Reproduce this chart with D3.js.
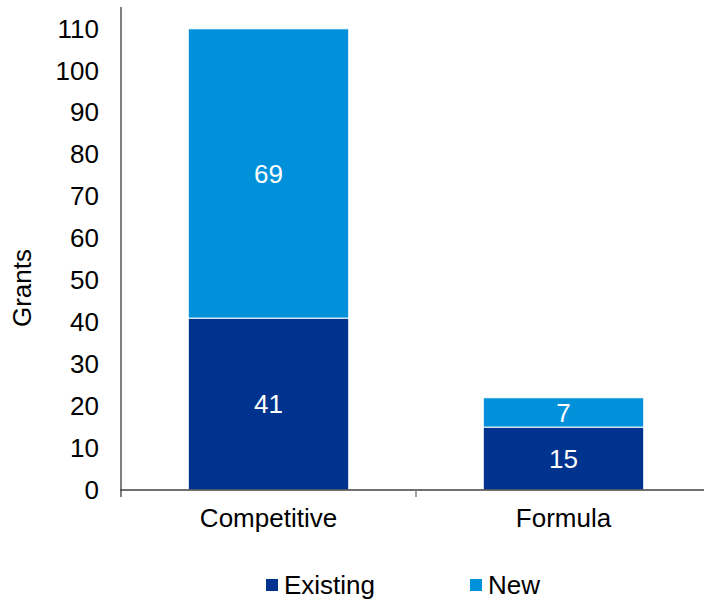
<!DOCTYPE html>
<html>
<head>
<meta charset="utf-8">
<script src="https://cdn.jsdelivr.net/npm/d3@7"></script>
<style>
  html, body { margin: 0; padding: 0; background: #fff; }
  svg text { font-family: "Liberation Sans", Arial, sans-serif; }
</style>
</head>
<body>
<svg id="chart" width="704" height="600"></svg>
<script>
// Grant counts by funding type, split into existing and new grants
const categories = ["Competitive", "Formula"];
const seriesNames = ["Existing", "New"];
const existing = [41, 15];
const newGrants = [69, 7];
const yTicks = [0, 10, 20, 30, 40, 50, 60, 70, 80, 90, 100, 110];
const colors = ["#00338D", "#0091DA"];

const svg = d3.select("#chart");
const margin = { left: 121, right: 711, top: 7, bottom: 490 };
const fontSize = 26;

const rows = categories.map((c, i) => ({ category: c, Existing: existing[i], New: newGrants[i] }));
const stacked = d3.stack().keys(seriesNames)(rows);

const x = d3.scaleBand().domain(categories).range([margin.left, margin.right]).paddingInner(0.456).paddingOuter(0.228);
const y = d3.scaleLinear().domain([0, 115.2]).range([margin.bottom, margin.top]);

// bars
const layers = svg.append("g").selectAll("g").data(stacked).join("g")
  .attr("fill", (d, i) => colors[i]);
layers.selectAll("rect").data(d => d.map(v => ({ v, key: d.key }))).join("rect")
  .attr("x", d => x(d.v.data.category))
  .attr("width", x.bandwidth())
  .attr("y", d => y(d.v[1]))
  .attr("height", d => y(d.v[0]) - y(d.v[1]))
  .attr("stroke", "#fff")
  .attr("stroke-width", 1);

// value labels
layers.selectAll("text").data(d => d.map(v => ({ v, key: d.key }))).join("text")
  .attr("x", d => x(d.v.data.category) + x.bandwidth() / 2)
  .attr("y", d => (y(d.v[0]) + y(d.v[1])) / 2)
  .attr("dy", "0.36em")
  .attr("text-anchor", "middle")
  .attr("fill", "#fff")
  .attr("font-size", fontSize)
  .text(d => d.v.data[d.key]);

// y axis
const yAxis = svg.append("g").attr("transform", `translate(${margin.left},0)`)
  .call(d3.axisLeft(y).tickValues(yTicks).tickSize(0).tickPadding(22));
yAxis.select(".domain").remove();
yAxis.selectAll("text").attr("font-size", fontSize).attr("fill", "#000")
  .style("font-family", "'Liberation Sans', Arial, sans-serif");
svg.append("line")
  .attr("x1", margin.left).attr("x2", margin.left)
  .attr("y1", margin.top).attr("y2", margin.bottom + 7)
  .attr("stroke", "#808080").attr("stroke-width", 2);

// x axis
const xAxis = svg.append("g").attr("transform", `translate(0,${margin.bottom})`)
  .call(d3.axisBottom(x).tickSize(0).tickPadding(19));
xAxis.select(".domain").remove();
xAxis.selectAll("text").attr("font-size", fontSize).attr("fill", "#000")
  .style("font-family", "'Liberation Sans', Arial, sans-serif");
svg.append("line")
  .attr("x1", margin.left - 1).attr("x2", margin.right)
  .attr("y1", margin.bottom).attr("y2", margin.bottom)
  .attr("stroke", "#404040").attr("stroke-width", 1.5);
// category boundary tick
const mid = (x("Competitive") + x.bandwidth() + x("Formula")) / 2;
svg.append("line")
  .attr("x1", mid).attr("x2", mid)
  .attr("y1", margin.bottom).attr("y2", margin.bottom + 7)
  .attr("stroke", "#808080").attr("stroke-width", 1.5);

// y axis title
svg.append("text")
  .attr("transform", "translate(31,288) rotate(-90)")
  .attr("text-anchor", "middle")
  .attr("font-size", fontSize)
  .attr("fill", "#000")
  .text("Grants");

// legend
const legendX = [266, 470];
const legend = svg.append("g").selectAll("g").data(seriesNames).join("g")
  .attr("transform", (d, i) => `translate(${legendX[i]},585)`);
legend.append("rect")
  .attr("x", 0).attr("y", -6).attr("width", 12).attr("height", 12)
  .attr("fill", (d, i) => colors[i]);
legend.append("text")
  .attr("x", 18).attr("dy", "0.36em")
  .attr("font-size", fontSize).attr("fill", "#000")
  .text(d => d);
</script>
</body>
</html>
